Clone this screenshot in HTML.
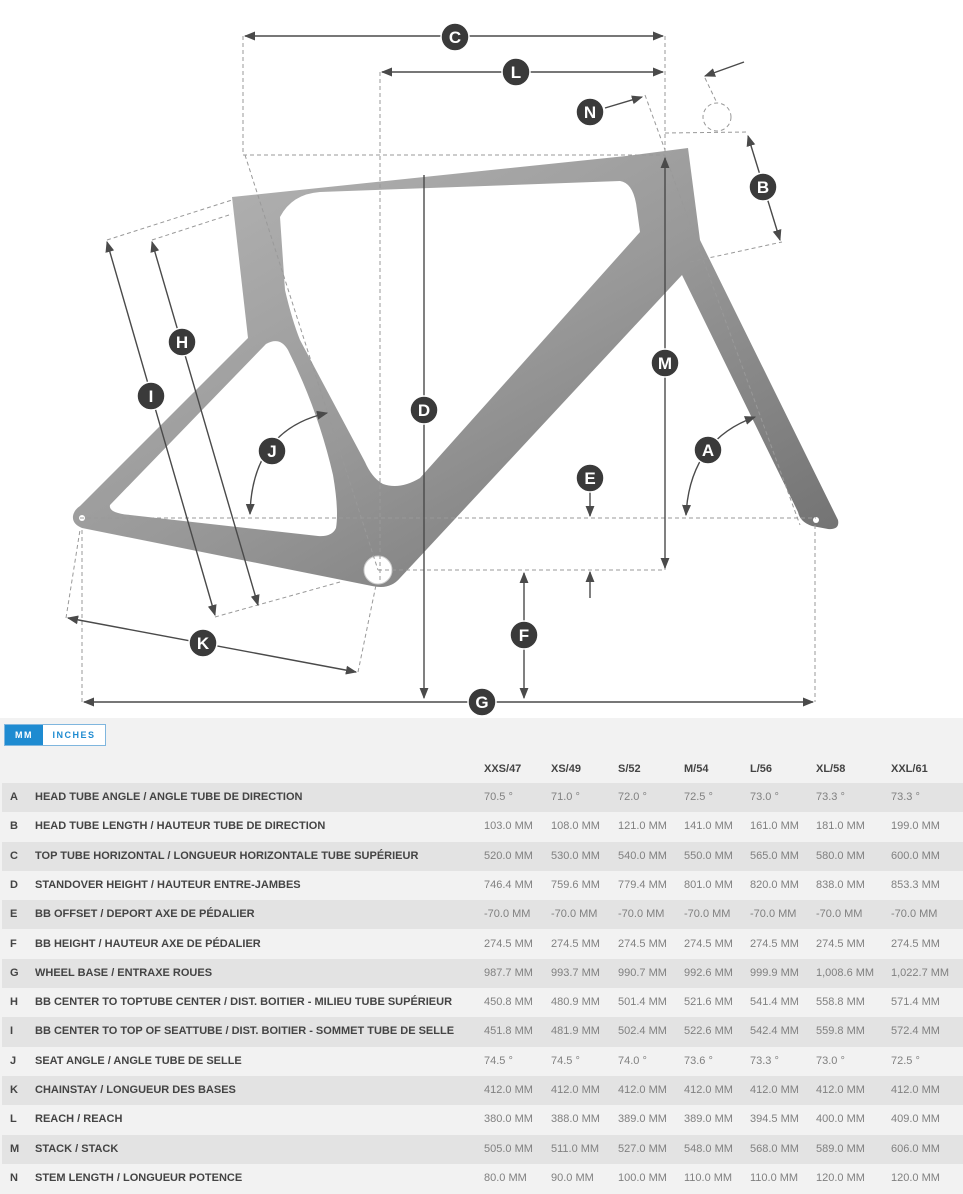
<!DOCTYPE html>
<html><head><meta charset="utf-8"><style>
*{margin:0;padding:0;box-sizing:border-box}
body{width:963px;height:1194px;overflow:hidden;background:#fff;font-family:"Liberation Sans",sans-serif;position:relative}
#tbl{position:absolute;left:0;top:718px;width:963px;height:476px;background:#f2f2f2}
.tog{position:absolute;left:4px;top:6px;height:22px;width:102px;border:1px solid #7fb6de;background:#fff;font-size:9px;font-weight:bold;letter-spacing:1.5px}
.tog .mm{position:absolute;left:0;top:0;width:38px;height:20px;background:#1e8bd1;color:#fff;line-height:20px;text-align:center}
.tog .in{position:absolute;left:38px;top:0;width:62px;height:20px;color:#1e8bd1;line-height:20px;text-align:center}
.row{position:absolute;left:2px;width:961px;height:29.3px;font-size:11px;line-height:29px;color:#444}
.row.s{background:#e3e3e3}
.row span{position:absolute;white-space:nowrap}
.row .l{left:8px;font-weight:bold}
.row .n{left:33px;font-weight:bold}
.row .v{color:#808080}
.hdr span{font-weight:bold;color:#444}
</style></head><body>
<svg width="963" height="718" style="position:absolute;left:0;top:0" xmlns="http://www.w3.org/2000/svg">
<defs>
<linearGradient id="g1" x1="0" y1="0" x2="1" y2="1"><stop offset="0" stop-color="#b8b8b8"/><stop offset="0.5" stop-color="#999"/><stop offset="1" stop-color="#6e6e6e"/></linearGradient>
<marker id="ar" viewBox="0 0 10 10" refX="9" refY="5" markerWidth="8" markerHeight="8" orient="auto-start-reverse"><path d="M0,1 L10,5 L0,9 z" fill="#4a4a4a"/></marker>
</defs>
<!-- frame -->
<path d="M73,516 Q74,510 80,506 L248,338 L232,197 L626,156 L688,148 L700,240 L838,520 Q840,530 828,529 L812,526 Q800,522 798,512 L682,275 L400,578 Q390,590 372,586 L82,528 Q72,524 73,516 Z" fill="url(#g1)"/>
<path d="M280,217 Q292,194 320,192 L620,181 Q634,183 637,210 L640,232 L420,478 Q400,490 383,484 Q372,478 365,462 L300,340 Q292,320 285,290 Z" fill="#fff"/>
<path d="M110,505 L266,344 Q280,336 288,350 Q318,410 333,475 Q339,510 336,528 Q332,537 318,536 L130,515 Q108,513 110,505 Z" fill="#fff"/>
<circle cx="378" cy="570" r="14" fill="#fff" stroke="#ccc"/>
<circle cx="82" cy="518" r="3" fill="#fff"/><circle cx="816" cy="520" r="3" fill="#fff"/>
<!-- dashed -->
<g stroke="#999" stroke-width="1" stroke-dasharray="4,3" fill="none">
<line x1="243" y1="36" x2="243" y2="155"/><line x1="665" y1="36" x2="665" y2="570"/>
<line x1="380" y1="72" x2="380" y2="580"/><line x1="243" y1="155" x2="665" y2="155"/>
<line x1="82" y1="530" x2="82" y2="702"/><line x1="815" y1="525" x2="815" y2="702"/>
<line x1="378" y1="570" x2="665" y2="570"/><line x1="80" y1="518" x2="816" y2="518"/>
<line x1="107" y1="240" x2="232" y2="200"/><line x1="152" y1="240" x2="232" y2="214"/>
<line x1="215" y1="617" x2="340" y2="582"/>
<line x1="66" y1="618" x2="80" y2="530"/><line x1="358" y1="672" x2="376" y2="585"/>
<line x1="665" y1="133" x2="748" y2="132"/><line x1="690" y1="262" x2="782" y2="242"/>
<line x1="645" y1="95" x2="665" y2="150"/><line x1="705" y1="78" x2="717" y2="103"/>
<circle cx="717" cy="117" r="14"/><line x1="245" y1="155" x2="378" y2="570"/>
<line x1="665" y1="155" x2="800" y2="525"/>
</g>
<!-- dims -->
<g stroke="#4a4a4a" stroke-width="1.4" fill="none">
<line x1="245" y1="36" x2="663" y2="36" marker-start="url(#ar)" marker-end="url(#ar)"/>
<line x1="382" y1="72" x2="663" y2="72" marker-start="url(#ar)" marker-end="url(#ar)"/>
<line x1="424" y1="175" x2="424" y2="698" marker-end="url(#ar)"/>
<line x1="665" y1="158" x2="665" y2="568" marker-start="url(#ar)" marker-end="url(#ar)"/>
<line x1="84" y1="702" x2="813" y2="702" marker-start="url(#ar)" marker-end="url(#ar)"/>
<line x1="524" y1="573" x2="524" y2="698" marker-start="url(#ar)" marker-end="url(#ar)"/>
<line x1="590" y1="492" x2="590" y2="516" marker-end="url(#ar)"/>
<line x1="590" y1="598" x2="590" y2="572" marker-end="url(#ar)"/>
<line x1="152" y1="242" x2="258" y2="605" marker-start="url(#ar)" marker-end="url(#ar)"/>
<line x1="107" y1="242" x2="215" y2="615" marker-start="url(#ar)" marker-end="url(#ar)"/>
<line x1="68" y1="618" x2="356" y2="672" marker-start="url(#ar)" marker-end="url(#ar)"/>
<line x1="748" y1="136" x2="780" y2="240" marker-start="url(#ar)" marker-end="url(#ar)"/>
<line x1="605" y1="108" x2="642" y2="97" marker-end="url(#ar)"/>
<line x1="744" y1="62" x2="705" y2="76" marker-end="url(#ar)"/>
<path d="M250,514 Q252,430 327,413" marker-start="url(#ar)" marker-end="url(#ar)"/>
<path d="M686,515 Q690,440 755,417" marker-start="url(#ar)" marker-end="url(#ar)"/>
</g>
<g font-family="Liberation Sans,sans-serif" font-weight="bold" font-size="17" fill="#fff" text-anchor="middle">
<g><circle cx="455" cy="37" r="14" fill="#3a3a3a" stroke="#fff" stroke-width="1.5"/><text x="455" y="43">C</text></g>
<g><circle cx="516" cy="72" r="14" fill="#3a3a3a" stroke="#fff" stroke-width="1.5"/><text x="516" y="78">L</text></g>
<g><circle cx="590" cy="112" r="14" fill="#3a3a3a" stroke="#fff" stroke-width="1.5"/><text x="590" y="118">N</text></g>
<g><circle cx="763" cy="187" r="14" fill="#3a3a3a" stroke="#fff" stroke-width="1.5"/><text x="763" y="193">B</text></g>
<g><circle cx="182" cy="342" r="14" fill="#3a3a3a" stroke="#fff" stroke-width="1.5"/><text x="182" y="348">H</text></g>
<g><circle cx="151" cy="396" r="14" fill="#3a3a3a" stroke="#fff" stroke-width="1.5"/><text x="151" y="402">I</text></g>
<g><circle cx="424" cy="410" r="14" fill="#3a3a3a" stroke="#fff" stroke-width="1.5"/><text x="424" y="416">D</text></g>
<g><circle cx="665" cy="363" r="14" fill="#3a3a3a" stroke="#fff" stroke-width="1.5"/><text x="665" y="369">M</text></g>
<g><circle cx="272" cy="451" r="14" fill="#3a3a3a" stroke="#fff" stroke-width="1.5"/><text x="272" y="457">J</text></g>
<g><circle cx="708" cy="450" r="14" fill="#3a3a3a" stroke="#fff" stroke-width="1.5"/><text x="708" y="456">A</text></g>
<g><circle cx="590" cy="478" r="14" fill="#3a3a3a" stroke="#fff" stroke-width="1.5"/><text x="590" y="484">E</text></g>
<g><circle cx="524" cy="635" r="14" fill="#3a3a3a" stroke="#fff" stroke-width="1.5"/><text x="524" y="641">F</text></g>
<g><circle cx="203" cy="643" r="14" fill="#3a3a3a" stroke="#fff" stroke-width="1.5"/><text x="203" y="649">K</text></g>
<g><circle cx="482" cy="702" r="14" fill="#3a3a3a" stroke="#fff" stroke-width="1.5"/><text x="482" y="708">G</text></g>
</g>
</svg>
<div id="tbl">
<div class="tog"><div class="mm">MM</div><div class="in">INCHES</div></div>
<div class="row hdr" style="top:37px"><span style="left:482px">XXS/47</span><span style="left:549px">XS/49</span><span style="left:616px">S/52</span><span style="left:682px">M/54</span><span style="left:748px">L/56</span><span style="left:814px">XL/58</span><span style="left:889px">XXL/61</span></div>
<div class="row s" style="top:65px"><span class="l">A</span><span class="n">HEAD TUBE ANGLE / ANGLE TUBE DE DIRECTION</span><span class="v" style="left:482px">70.5 °</span><span class="v" style="left:549px">71.0 °</span><span class="v" style="left:616px">72.0 °</span><span class="v" style="left:682px">72.5 °</span><span class="v" style="left:748px">73.0 °</span><span class="v" style="left:814px">73.3 °</span><span class="v" style="left:889px">73.3 °</span></div>
<div class="row" style="top:94.3px"><span class="l">B</span><span class="n">HEAD TUBE LENGTH / HAUTEUR TUBE DE DIRECTION</span><span class="v" style="left:482px">103.0 MM</span><span class="v" style="left:549px">108.0 MM</span><span class="v" style="left:616px">121.0 MM</span><span class="v" style="left:682px">141.0 MM</span><span class="v" style="left:748px">161.0 MM</span><span class="v" style="left:814px">181.0 MM</span><span class="v" style="left:889px">199.0 MM</span></div>
<div class="row s" style="top:123.6px"><span class="l">C</span><span class="n">TOP TUBE HORIZONTAL / LONGUEUR HORIZONTALE TUBE SUPÉRIEUR</span><span class="v" style="left:482px">520.0 MM</span><span class="v" style="left:549px">530.0 MM</span><span class="v" style="left:616px">540.0 MM</span><span class="v" style="left:682px">550.0 MM</span><span class="v" style="left:748px">565.0 MM</span><span class="v" style="left:814px">580.0 MM</span><span class="v" style="left:889px">600.0 MM</span></div>
<div class="row" style="top:152.9px"><span class="l">D</span><span class="n">STANDOVER HEIGHT / HAUTEUR ENTRE-JAMBES</span><span class="v" style="left:482px">746.4 MM</span><span class="v" style="left:549px">759.6 MM</span><span class="v" style="left:616px">779.4 MM</span><span class="v" style="left:682px">801.0 MM</span><span class="v" style="left:748px">820.0 MM</span><span class="v" style="left:814px">838.0 MM</span><span class="v" style="left:889px">853.3 MM</span></div>
<div class="row s" style="top:182.2px"><span class="l">E</span><span class="n">BB OFFSET / DEPORT AXE DE PÉDALIER</span><span class="v" style="left:482px">-70.0 MM</span><span class="v" style="left:549px">-70.0 MM</span><span class="v" style="left:616px">-70.0 MM</span><span class="v" style="left:682px">-70.0 MM</span><span class="v" style="left:748px">-70.0 MM</span><span class="v" style="left:814px">-70.0 MM</span><span class="v" style="left:889px">-70.0 MM</span></div>
<div class="row" style="top:211.5px"><span class="l">F</span><span class="n">BB HEIGHT / HAUTEUR AXE DE PÉDALIER</span><span class="v" style="left:482px">274.5 MM</span><span class="v" style="left:549px">274.5 MM</span><span class="v" style="left:616px">274.5 MM</span><span class="v" style="left:682px">274.5 MM</span><span class="v" style="left:748px">274.5 MM</span><span class="v" style="left:814px">274.5 MM</span><span class="v" style="left:889px">274.5 MM</span></div>
<div class="row s" style="top:240.8px"><span class="l">G</span><span class="n">WHEEL BASE / ENTRAXE ROUES</span><span class="v" style="left:482px">987.7 MM</span><span class="v" style="left:549px">993.7 MM</span><span class="v" style="left:616px">990.7 MM</span><span class="v" style="left:682px">992.6 MM</span><span class="v" style="left:748px">999.9 MM</span><span class="v" style="left:814px">1,008.6 MM</span><span class="v" style="left:889px">1,022.7 MM</span></div>
<div class="row" style="top:270.1px"><span class="l">H</span><span class="n">BB CENTER TO TOPTUBE CENTER / DIST. BOITIER - MILIEU TUBE SUPÉRIEUR</span><span class="v" style="left:482px">450.8 MM</span><span class="v" style="left:549px">480.9 MM</span><span class="v" style="left:616px">501.4 MM</span><span class="v" style="left:682px">521.6 MM</span><span class="v" style="left:748px">541.4 MM</span><span class="v" style="left:814px">558.8 MM</span><span class="v" style="left:889px">571.4 MM</span></div>
<div class="row s" style="top:299.4px"><span class="l">I</span><span class="n">BB CENTER TO TOP OF SEATTUBE / DIST. BOITIER - SOMMET TUBE DE SELLE</span><span class="v" style="left:482px">451.8 MM</span><span class="v" style="left:549px">481.9 MM</span><span class="v" style="left:616px">502.4 MM</span><span class="v" style="left:682px">522.6 MM</span><span class="v" style="left:748px">542.4 MM</span><span class="v" style="left:814px">559.8 MM</span><span class="v" style="left:889px">572.4 MM</span></div>
<div class="row" style="top:328.7px"><span class="l">J</span><span class="n">SEAT ANGLE / ANGLE TUBE DE SELLE</span><span class="v" style="left:482px">74.5 °</span><span class="v" style="left:549px">74.5 °</span><span class="v" style="left:616px">74.0 °</span><span class="v" style="left:682px">73.6 °</span><span class="v" style="left:748px">73.3 °</span><span class="v" style="left:814px">73.0 °</span><span class="v" style="left:889px">72.5 °</span></div>
<div class="row s" style="top:358px"><span class="l">K</span><span class="n">CHAINSTAY / LONGUEUR DES BASES</span><span class="v" style="left:482px">412.0 MM</span><span class="v" style="left:549px">412.0 MM</span><span class="v" style="left:616px">412.0 MM</span><span class="v" style="left:682px">412.0 MM</span><span class="v" style="left:748px">412.0 MM</span><span class="v" style="left:814px">412.0 MM</span><span class="v" style="left:889px">412.0 MM</span></div>
<div class="row" style="top:387.3px"><span class="l">L</span><span class="n">REACH / REACH</span><span class="v" style="left:482px">380.0 MM</span><span class="v" style="left:549px">388.0 MM</span><span class="v" style="left:616px">389.0 MM</span><span class="v" style="left:682px">389.0 MM</span><span class="v" style="left:748px">394.5 MM</span><span class="v" style="left:814px">400.0 MM</span><span class="v" style="left:889px">409.0 MM</span></div>
<div class="row s" style="top:416.6px"><span class="l">M</span><span class="n">STACK / STACK</span><span class="v" style="left:482px">505.0 MM</span><span class="v" style="left:549px">511.0 MM</span><span class="v" style="left:616px">527.0 MM</span><span class="v" style="left:682px">548.0 MM</span><span class="v" style="left:748px">568.0 MM</span><span class="v" style="left:814px">589.0 MM</span><span class="v" style="left:889px">606.0 MM</span></div>
<div class="row" style="top:445.9px"><span class="l">N</span><span class="n">STEM LENGTH / LONGUEUR POTENCE</span><span class="v" style="left:482px">80.0 MM</span><span class="v" style="left:549px">90.0 MM</span><span class="v" style="left:616px">100.0 MM</span><span class="v" style="left:682px">110.0 MM</span><span class="v" style="left:748px">110.0 MM</span><span class="v" style="left:814px">120.0 MM</span><span class="v" style="left:889px">120.0 MM</span></div>
</div>
</body></html>
